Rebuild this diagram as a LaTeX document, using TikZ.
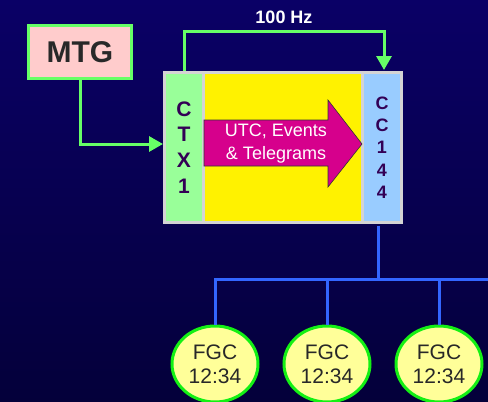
\documentclass[tikz,border=0pt]{standalone}
\usepackage{fontspec}
\setmainfont{Liberation Sans}
\usepackage{tikz}
\usetikzlibrary{arrows.meta,shapes.geometric}
\definecolor{navytop}{RGB}{10,0,102}
\definecolor{navybot}{RGB}{4,0,58}
\definecolor{linkgreen}{RGB}{102,255,102}
\definecolor{ringgreen}{RGB}{20,240,20}
\definecolor{mtgpink}{RGB}{255,204,204}
\definecolor{ctxgreen}{RGB}{153,255,153}
\definecolor{ccblue}{RGB}{153,204,255}
\definecolor{framegray}{RGB}{212,212,212}
\definecolor{magent}{RGB}{214,0,140}
\definecolor{busblue}{RGB}{51,102,255}
\definecolor{inkpurple}{RGB}{51,0,85}
\definecolor{inkgray}{RGB}{40,40,40}
\definecolor{fgcyellow}{RGB}{255,255,153}
\tikzset{
  greenlink/.style={draw=linkgreen, line width=3pt, -{Triangle[length=14pt,width=15pt]}},
  buslink/.style={draw=busblue, line width=3pt},
  strip/.style={inner sep=0pt, minimum width=36pt, minimum height=147pt, align=center, font=\bfseries, text=inkpurple},
  fgc/.style={ellipse, draw=ringgreen, line width=3pt, fill=fgcyellow, minimum width=86pt, minimum height=76pt, inner sep=0pt, align=center, text=inkgray, font=\fontsize{21}{24}\selectfont}
}

\begin{document}
\begin{tikzpicture}[x=1pt, y=-1pt]
% background
\shade[top color=navytop, bottom color=navybot] (0,0) rectangle (488,402);
\useasboundingbox (0,0) rectangle (488,402);
% MTG
\node[draw=linkgreen, line width=3pt, fill=mtgpink, minimum width=103pt, minimum height=53pt, inner sep=0pt,
  text=inkgray, font=\fontsize{30}{34}\selectfont\bfseries] (mtg) at (80,52) {MTG};
% frame with strips
\node[draw=framegray, line width=3pt, fill=framegray, minimum width=237pt, minimum height=150pt, inner sep=0pt] (frame) at (283,147.5) {};
\node[strip, fill=ctxgreen, font=\fontsize{21}{25.7}\selectfont\bfseries] (ctx) at (184,147.5) {C\\T\\X\\1};
\node[fill=yellow, inner sep=0pt, minimum width=156pt, minimum height=147pt] (core) at (283,147.5) {};
\node[strip, fill=ccblue, font=\fontsize{18}{22.3}\selectfont\bfseries] (cc) at (382,147.5) {C\\C\\1\\4\\4};
% flow arrow
\filldraw[fill=magent, draw=black!80, line width=0.6pt]
  (204,120) -- (328,120) -- (328,100) -- (362,144) -- (328,187) -- (328,166) -- (204,166) -- cycle;
\node[text=white, align=center, font=\fontsize{18}{23}\selectfont] (utc) at (276,144) {UTC, Events\\\& Telegrams};
% green links
\draw[greenlink] (mtg.south) |- (frame.west |- 0,144);
\draw[greenlink] (ctx.north |- frame.north) -- ++(0,-40) -| (384,70);
\node[text=white, font=\fontsize{18}{20}\selectfont\bfseries] (hz) at (284,17) {100 Hz};
% FGC nodes
\node[fgc] (fgcA) at (215,364) {FGC\\12:34};
\node[fgc] (fgcB) at (327,364) {FGC\\12:34};
\node[fgc] (fgcC) at (439,364) {FGC\\12:34};
% bus
\coordinate (busL) at (215,279);
\coordinate (busR) at (488,279);
\draw[buslink] (cc.south |- frame.south) ++(-4,1.5) coordinate (ccout) -- (ccout |- busL);
\draw[buslink] (fgcA.north) -- (busL) -- (busR);
\draw[buslink] (fgcB.north) -- (fgcB.north |- busL);
\draw[buslink] (fgcC.north) -- (fgcC.north |- busL);
\end{tikzpicture}
\end{document}
